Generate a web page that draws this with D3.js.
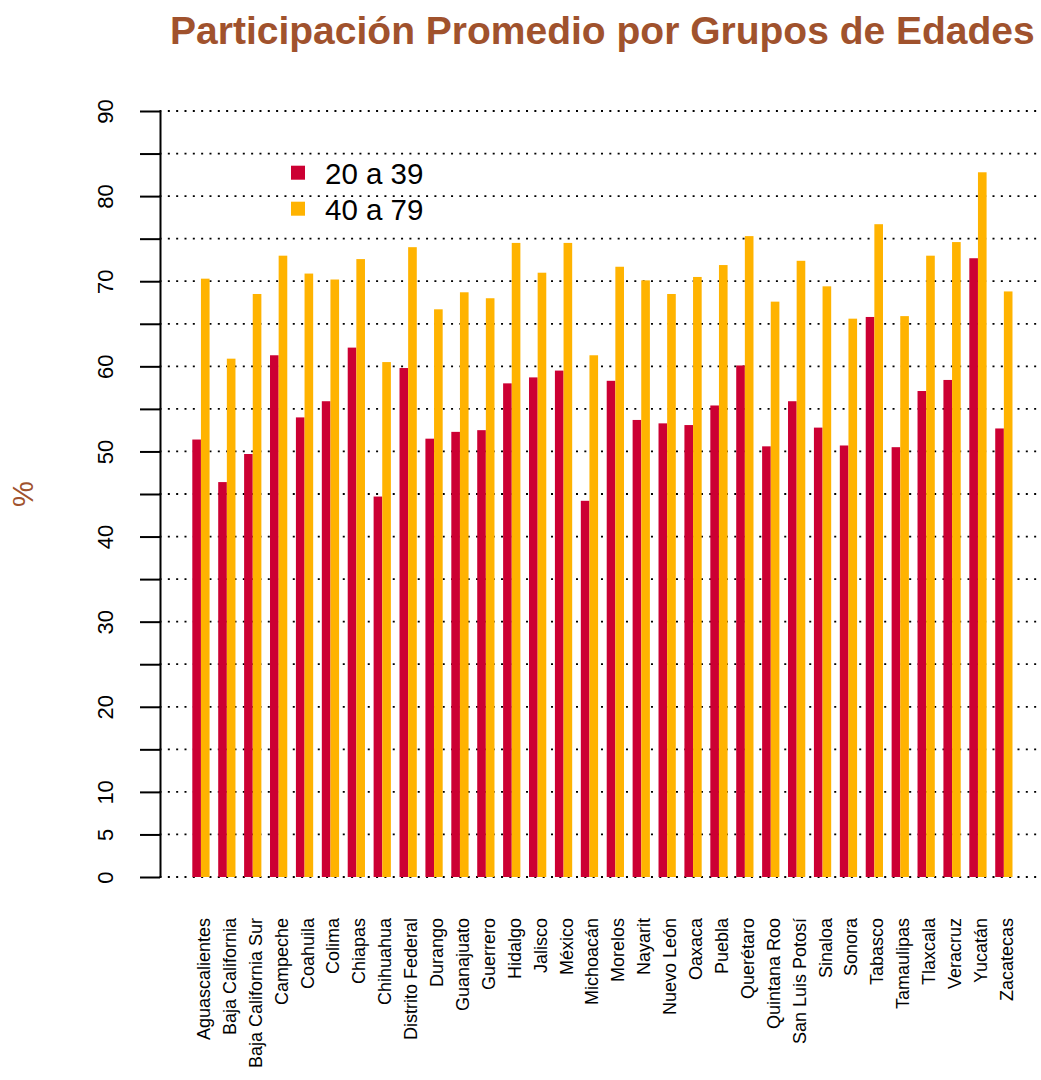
<!DOCTYPE html>
<html>
<head>
<meta charset="utf-8">
<script src="https://cdn.jsdelivr.net/npm/d3@7.9.0/dist/d3.min.js"></script>
<style>
  body { margin: 0; background: #fff; }
  svg { display: block; font-family: "Liberation Sans", Arial, Helvetica, sans-serif; }
</style>
</head>
<body>
<svg id="chart" width="1041" height="1080"></svg>
<script>
const states = ['Aguascalientes', 'Baja California', 'Baja California Sur', 'Campeche', 'Coahuila',
  'Colima', 'Chiapas', 'Chihuahua', 'Distrito Federal', 'Durango', 'Guanajuato', 'Guerrero',
  'Hidalgo', 'Jalisco', 'México', 'Michoacán', 'Morelos', 'Nayarit', 'Nuevo León', 'Oaxaca',
  'Puebla', 'Querétaro', 'Quintana Roo', 'San Luis Potosí', 'Sinaloa', 'Sonora', 'Tabasco',
  'Tamaulipas', 'Tlaxcala', 'Veracruz', 'Yucatán', 'Zacatecas'];

const groups = ['20 a 39', '40 a 79'];

const young = [51.4, 46.4, 49.7, 61.3, 54.0, 55.9, 62.2, 44.7, 59.8, 51.5, 52.3, 52.5,
  58.0, 58.7, 59.5, 44.2, 58.3, 53.7, 53.3, 53.1, 55.4, 60.1, 50.6, 55.9, 52.8, 50.7, 65.8,
  50.5, 57.1, 58.4, 72.7, 52.7];

const older = [70.3, 60.9, 68.5, 73.0, 70.9, 70.2, 72.6, 60.5, 74.0, 66.7, 68.7, 68.0,
  74.5, 71.0, 74.5, 61.3, 71.7, 70.1, 68.5, 70.5, 71.9, 75.3, 67.6, 72.4, 69.4, 65.6, 76.7,
  65.9, 73.0, 74.6, 82.8, 68.8];

const yTicks = d3.range(0, 95, 5);
const yLabels = [0, 5, 10, 20, 30, 40, 50, 60, 70, 80, 90];

const colors = ['#CC0033', '#FFB300'];
const brown = '#A0522D';

const svg = d3.select('#chart');
svg.append('rect').attr('width', 1041).attr('height', 1080).attr('fill', '#fff');

const plot = { left: 159.5, right: 1045.3, top: 111, bottom: 877 };

const x = d3.scaleBand()
  .domain(states)
  .range([plot.left, plot.right])
  .paddingInner(1 / 3)
  .paddingOuter(1.2667);

const xSub = d3.scaleBand()
  .domain(groups)
  .range([0, x.bandwidth()]);

const y = d3.scaleLinear().domain([0, 90]).range([plot.bottom, plot.top]);

const color = d3.scaleOrdinal().domain(groups).range(colors);

// dotted grid
svg.append('g').attr('class', 'grid')
  .selectAll('line')
  .data(yTicks)
  .join('line')
  .attr('x1', plot.left)
  .attr('x2', plot.right)
  .attr('y1', d => y(d))
  .attr('y2', d => y(d))
  .attr('stroke', '#000')
  .attr('stroke-width', 1.8)
  .attr('stroke-dasharray', '2,6.33');

// bars
const rows = states.map((s, i) => ({ state: s, values: [young[i], older[i]] }));

svg.append('g').attr('class', 'bars')
  .selectAll('g')
  .data(rows)
  .join('g')
  .attr('transform', d => `translate(${x(d.state)},0)`)
  .selectAll('rect')
  .data(d => groups.map((g, j) => ({ group: g, value: d.values[j] })))
  .join('rect')
  .attr('x', d => xSub(d.group))
  .attr('width', xSub.bandwidth())
  .attr('y', d => y(d.value))
  .attr('height', d => y(0) - y(d.value))
  .attr('fill', d => color(d.group));

// y axis
const yAxis = d3.axisLeft(y)
  .tickValues(yTicks)
  .tickSize(20)
  .tickSizeOuter(0)
  .tickFormat(d => yLabels.includes(d) ? d : '');

const ya = svg.append('g')
  .attr('transform', `translate(${plot.left + 0.5},0)`)
  .call(yAxis);

ya.select('.domain').attr('stroke-width', 2);
ya.selectAll('.tick line').attr('stroke-width', 2);
ya.selectAll('.tick text')
  .attr('transform', 'rotate(-90)')
  .attr('x', 0)
  .attr('y', -47)
  .attr('dy', null)
  .attr('text-anchor', 'middle')
  .attr('font-size', 22)
  .attr('fill', '#000');

// x labels
svg.append('g').attr('class', 'x-labels')
  .selectAll('text')
  .data(states)
  .join('text')
  .attr('transform', d => `translate(${x(d) + x.bandwidth() / 2 + 9},918) rotate(-90)`)
  .attr('text-anchor', 'end')
  .attr('font-size', 18)
  .text(d => d);

// title and y label
svg.append('text')
  .attr('x', (plot.left + plot.right) / 2)
  .attr('y', 44)
  .attr('text-anchor', 'middle')
  .attr('font-size', 39)
  .attr('font-weight', 'bold')
  .attr('fill', brown)
  .text('Participación Promedio por Grupos de Edades');

svg.append('text')
  .attr('transform', `translate(33,${(plot.top + plot.bottom) / 2}) rotate(-90)`)
  .attr('text-anchor', 'middle')
  .attr('font-size', 29)
  .attr('fill', brown)
  .text('%');

// legend
const legend = svg.append('g').attr('class', 'legend')
  .selectAll('g')
  .data(groups)
  .join('g')
  .attr('transform', (d, i) => `translate(291,${165.7 + i * 36})`);

legend.append('rect')
  .attr('width', 14)
  .attr('height', 14)
  .attr('fill', d => color(d));

legend.append('text')
  .attr('x', 34)
  .attr('y', 18.6)
  .attr('font-size', 29.5)
  .text(d => d);
</script>
</body>
</html>
